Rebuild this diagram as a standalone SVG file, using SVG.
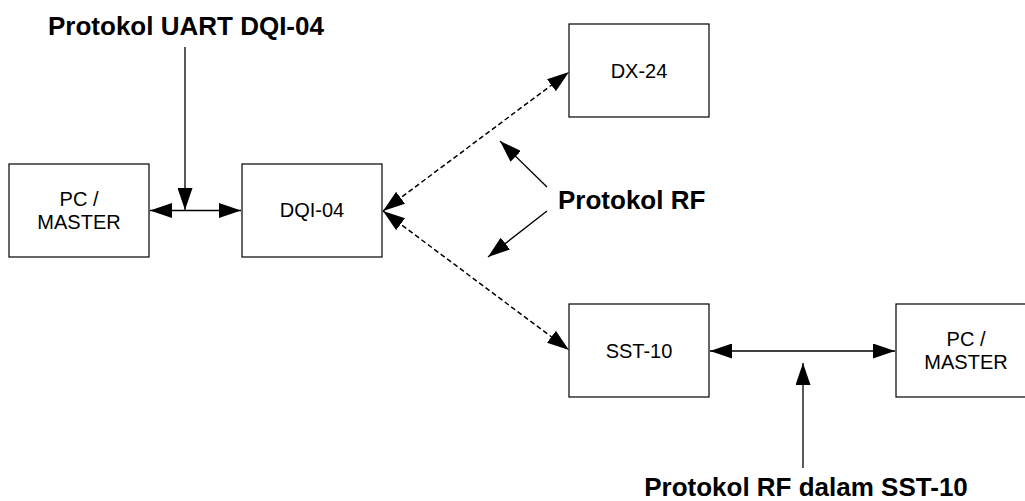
<svg xmlns="http://www.w3.org/2000/svg" width="1025" height="501" viewBox="0 0 1025 501">
<style>
.box{fill:#fff;stroke:#000;stroke-width:1.2}
.lbl{font-family:"Liberation Sans",Arial,sans-serif;font-size:20px;fill:#000;text-anchor:middle}
.big{font-family:"Liberation Sans",Arial,sans-serif;font-size:26px;font-weight:bold;fill:#000}
.ln{stroke:#000;stroke-width:1.3;fill:none}
.dash{stroke:#000;stroke-width:1.5;fill:none;stroke-dasharray:5 3}
</style>
<defs>
<marker id="ah" markerUnits="userSpaceOnUse" markerWidth="22" markerHeight="15" refX="22" refY="7.5" orient="auto-start-reverse" viewBox="0 0 22 15">
<path d="M0,0 L22,7.5 L0,15 z" fill="#000"/>
</marker>
</defs>
<rect width="1025" height="501" fill="#fff"/>
<g id="connectors">
<line class="ln" x1="150" y1="210.5" x2="241" y2="210.5" marker-start="url(#ah)" marker-end="url(#ah)"/>
<line class="ln" x1="185" y1="47" x2="185" y2="210" marker-end="url(#ah)"/>
<line class="dash" x1="383" y1="211" x2="569" y2="72" marker-start="url(#ah)" marker-end="url(#ah)"/>
<line class="dash" x1="383" y1="211" x2="569" y2="350" marker-start="url(#ah)" marker-end="url(#ah)"/>
<line class="ln" x1="547" y1="187" x2="500" y2="141" marker-end="url(#ah)"/>
<line class="ln" x1="547" y1="211" x2="488" y2="257" marker-end="url(#ah)"/>
<line class="ln" x1="710" y1="351" x2="895" y2="351" marker-start="url(#ah)" marker-end="url(#ah)"/>
<line class="ln" x1="803" y1="468" x2="803" y2="363" marker-end="url(#ah)"/>
</g>
<g id="pc-master-left">
<rect class="box" x="9" y="164" width="140" height="93"/>
<text class="lbl" x="79" y="206">PC /</text>
<text class="lbl" x="79" y="229">MASTER</text>
</g>
<g id="dqi-04">
<rect class="box" x="242" y="164" width="140" height="93"/>
<text class="lbl" x="312" y="217">DQI-04</text>
</g>
<g id="dx-24">
<rect class="box" x="569" y="24" width="140" height="93"/>
<text class="lbl" x="639" y="77.5">DX-24</text>
</g>
<g id="sst-10">
<rect class="box" x="569" y="304" width="140" height="93"/>
<text class="lbl" x="639" y="357.5">SST-10</text>
</g>
<g id="pc-master-right">
<rect class="box" x="896" y="304" width="140" height="93"/>
<text class="lbl" x="966" y="346">PC /</text>
<text class="lbl" x="966" y="369">MASTER</text>
</g>
<g id="labels">
<text class="big" x="186" y="35" text-anchor="middle">Protokol UART DQI-04</text>
<text class="big" x="558" y="209">Protokol RF</text>
<text class="big" x="806" y="496" text-anchor="middle">Protokol RF dalam SST-10</text>
</g>
</svg>
